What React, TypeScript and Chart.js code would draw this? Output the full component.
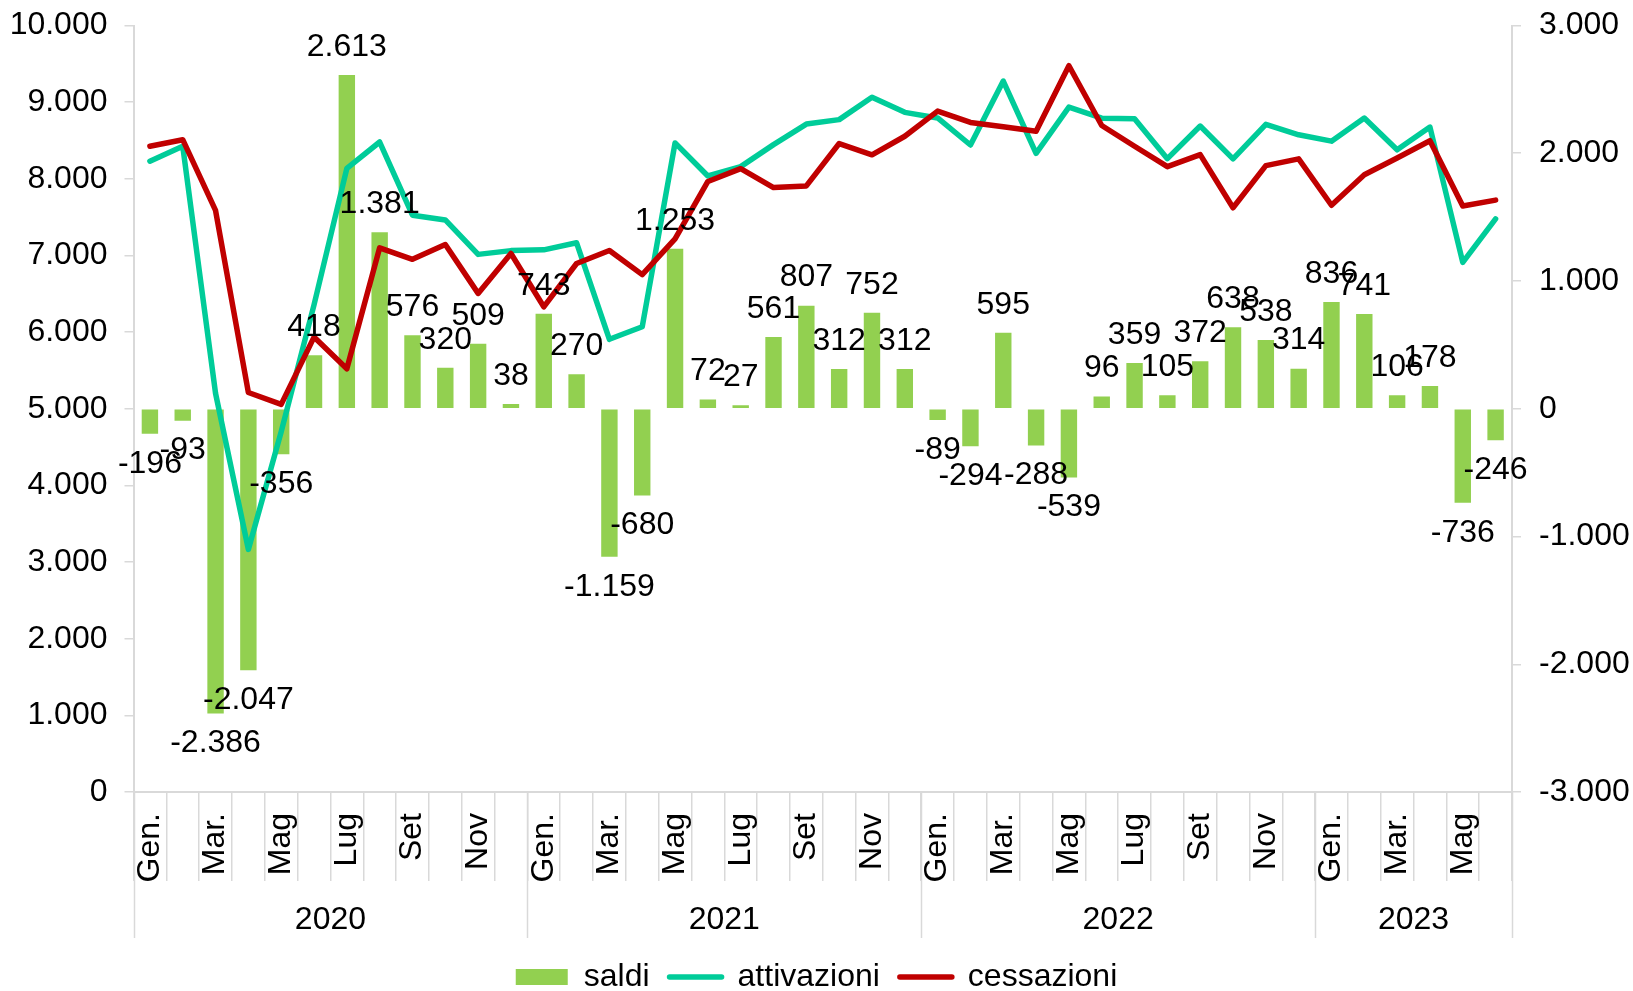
import React, { useEffect, useRef } from 'react';
import { Chart, registerables } from 'chart.js';

Chart.register(...registerables);

const years = ['2020', '2021', '2022', '2023'];
const monthsPerYear = [12, 12, 12, 6];
const monthNames = ['Gen.', 'Feb.', 'Mar.', 'Apr.', 'Mag', 'Giu', 'Lug', 'Ago', 'Set', 'Ott', 'Nov', 'Dic'];
const monthTickLabels = ['Gen.', '', 'Mar.', '', 'Mag', '', 'Lug', '', 'Set', '', 'Nov', ''];

const saldi = [
  -196, -93, -2386, -2047, -356, 418, 2613, 1381, 576, 320, 509, 38,
  743, 270, -1159, -680, 1253, 72, 27, 561, 807, 312, 752, 312,
  -89, -294, 595, -288, -539, 96, 359, 105, 372, 638, 538, 314,
  836, 741, 106, 178, -736, -246,
];

const attivazioni = [
  8230, 8425, 5200, 3165, 4700, 6355, 8135, 8480, 7525, 7463, 7014, 7063,
  7073, 7165, 5906, 6070, 8468, 8037, 8159, 8446, 8714, 8772, 9065, 8867,
  8794, 8441, 9275, 8332, 8936, 8791, 8784, 8263, 8688, 8260, 8710, 8574,
  8491, 8793, 8378, 8675, 6909, 7476,
];

const cessazioni = [
  8425, 8510, 7587, 5212, 5057, 5935, 5522, 7100, 6950, 7143, 6505, 7025,
  6330, 6895, 7065, 6750, 7215, 7965, 8132, 7885, 7907, 8460, 8313, 8555,
  8883, 8735, 8680, 8620, 9475, 8695, 8425, 8158, 8316, 7622, 8172, 8260,
  7655, 8052, 8272, 8497, 7645, 7722,
];

const leftTicks = { min: 0, max: 10000, step: 1000 };
const rightTicks = { min: -3000, max: 3000, step: 1000 };

const FONT = "'Liberation Sans', Arial, sans-serif";
const GREEN = '#92D050';
const TEAL = '#00CC99';
const RED = '#C00000';
const AXIS = '#D9D9D9';

const fmt = (v: number) => {
  const s = Math.abs(Math.round(v)).toString().replace(/\B(?=(\d{3})+(?!\d))/g, '.');
  return v < 0 ? '-' + s : s;
};

const categories: string[] = [];
const tickLabels: string[] = [];
years.forEach((y, yi) => {
  for (let m = 0; m < monthsPerYear[yi]; m++) {
    categories.push(monthNames[m] + ' ' + y);
    tickLabels.push(monthTickLabels[m]);
  }
});

const dataLabelPlugin = {
  id: 'dataLabels',
  afterDatasetsDraw(chart: any) {
    const ctx = chart.ctx;
    const meta = chart.getDatasetMeta(0);
    ctx.save();
    ctx.font = `32px ${FONT}`;
    ctx.fillStyle = '#000';
    ctx.textAlign = 'center';
    ctx.textBaseline = 'middle';
    meta.data.forEach((el: any, i: number) => {
      const v = saldi[i];
      const y = v >= 0 ? el.y - 28 : el.y + 30;
      ctx.fillText(fmt(v), el.x, y);
    });
    ctx.restore();
  },
};

const yearPlugin = {
  id: 'yearRow',
  afterDraw(chart: any) {
    const xs = chart.scales.x;
    const ctx = chart.ctx;
    const n = categories.length;
    const w = (xs.right - xs.left) / n;
    ctx.save();
    ctx.strokeStyle = AXIS;
    ctx.lineWidth = 1.5;
    let start = 0;
    const bounds = [0];
    monthsPerYear.forEach((c) => {
      start += c;
      bounds.push(start);
    });
    bounds.forEach((b) => {
      const x = Math.round(xs.left + b * w) + 0.5;
      ctx.beginPath();
      ctx.moveTo(x, xs.top);
      ctx.lineTo(x, xs.top + 146);
      ctx.stroke();
    });
    ctx.font = `32px ${FONT}`;
    ctx.fillStyle = '#000';
    ctx.textAlign = 'center';
    ctx.textBaseline = 'middle';
    years.forEach((y, yi) => {
      const cx = xs.left + (bounds[yi] + monthsPerYear[yi] / 2) * w;
      ctx.fillText(y, cx, xs.top + 128);
    });
    ctx.restore();
  },
};

const noVPad = (s: any) => {
  s.paddingTop = 0;
  s.paddingBottom = 0;
};

export default function App() {
  const ref = useRef<HTMLCanvasElement | null>(null);

  useEffect(() => {
    if (!ref.current) return;
    Chart.defaults.font.family = FONT;
    const chart = new Chart(ref.current, {
      type: 'bar',
      data: {
        labels: categories,
        datasets: [
          {
            type: 'bar',
            label: 'saldi',
            data: saldi,
            backgroundColor: GREEN,
            borderWidth: 0,
            yAxisID: 'y1',
            order: 3,
            barPercentage: 0.5,
            categoryPercentage: 1,
          } as any,
          {
            type: 'line',
            label: 'attivazioni',
            data: attivazioni,
            borderColor: TEAL,
            backgroundColor: TEAL,
            borderWidth: 5.5,
            pointRadius: 0,
            tension: 0,
            borderJoinStyle: 'round',
            borderCapStyle: 'round',
            yAxisID: 'y',
            order: 2,
          } as any,
          {
            type: 'line',
            label: 'cessazioni',
            data: cessazioni,
            borderColor: RED,
            backgroundColor: RED,
            borderWidth: 5.5,
            pointRadius: 0,
            tension: 0,
            borderJoinStyle: 'round',
            borderCapStyle: 'round',
            yAxisID: 'y',
            order: 1,
          } as any,
        ],
      },
      options: {
        responsive: false,
        animation: false,
        devicePixelRatio: 1,
        layout: { padding: { top: 25.5, bottom: -12, left: 0, right: 0 } },
        plugins: {
          tooltip: { enabled: false },
          legend: {
            position: 'bottom',
            labels: {
              font: { size: 32, family: FONT },
              color: '#000',
              usePointStyle: true,
              pointStyleWidth: 52,
              boxHeight: 16,
              padding: 20,
              sort: (a: any, b: any) => a.datasetIndex - b.datasetIndex,
              generateLabels: (chart: any) => {
                const items = Chart.defaults.plugins.legend.labels.generateLabels(chart);
                return items.map((it: any) => {
                  if (it.datasetIndex === 0) {
                    return { ...it, pointStyle: 'rect', fillStyle: GREEN, strokeStyle: GREEN, lineWidth: 0 };
                  }
                  const c = it.datasetIndex === 1 ? TEAL : RED;
                  return { ...it, pointStyle: 'line', fillStyle: c, strokeStyle: c, lineWidth: 5.5, lineCap: 'round' };
                });
              },
            },
          },
        },
        scales: {
          x: {
            type: 'category',
            offset: true,
            grid: {
              offset: true,
              drawOnChartArea: false,
              drawTicks: true,
              tickLength: 89,
              color: AXIS,
              lineWidth: 1.5,
            },
            border: { display: true, color: AXIS, width: 2 },
            ticks: {
              autoSkip: false,
              maxRotation: 90,
              minRotation: 90,
              padding: -68,
              color: '#000',
              font: { size: 32, family: FONT },
              callback: (_v: any, i: number) => tickLabels[i],
            },
            afterFit: (s: any) => {
              s.height = 149;
            },
          },
          y: {
            position: 'left',
            min: leftTicks.min,
            max: leftTicks.max,
            ticks: {
              stepSize: leftTicks.step,
              padding: 17,
              color: '#000',
              font: { size: 32, family: FONT },
              callback: (v: any) => fmt(Number(v)),
            },
            grid: { drawOnChartArea: false, tickLength: 9, color: AXIS, lineWidth: 1.5 },
            border: { display: true, color: AXIS, width: 2 },
            afterFit: (s: any) => {
              s.width = 133.5;
              noVPad(s);
            },
          },
          y1: {
            position: 'right',
            min: rightTicks.min,
            max: rightTicks.max,
            ticks: {
              stepSize: rightTicks.step,
              padding: 18,
              color: '#000',
              font: { size: 32, family: FONT },
              callback: (v: any) => fmt(Number(v)),
            },
            grid: { drawOnChartArea: false, tickLength: 9, color: AXIS, lineWidth: 1.5 },
            border: { display: true, color: AXIS, width: 2 },
            afterFit: (s: any) => {
              s.width = 121;
              noVPad(s);
            },
          },
        },
      } as any,
      plugins: [dataLabelPlugin, yearPlugin],
    });
    return () => chart.destroy();
  }, []);

  return (
    <div style={{ position: 'absolute', left: 0, top: 0, width: 1633, height: 991, background: '#fff' }}>
      <canvas ref={ref} width={1633} height={991} />
    </div>
  );
}
